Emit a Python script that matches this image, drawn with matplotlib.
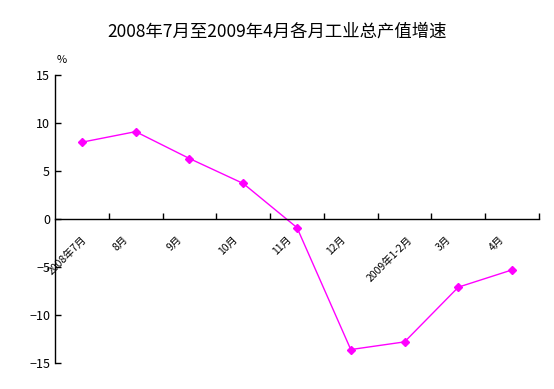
import matplotlib
matplotlib.use("Agg")
import matplotlib.pyplot as plt
import numpy as np

plt.rcParams['font.family'] = ['Noto Sans CJK SC', 'DejaVu Sans']

categories = ["2008年7月", "8月", "9月", "10月", "11月", "12月", "2009年1-2月", "3月", "4月"]
values = [8.0, 9.1, 6.3, 3.7, -0.9, -13.6, -12.8, -7.1, -5.3]

fig = plt.figure(figsize=(5.54, 3.89), dpi=100)
ax = fig.add_axes([55/554, (389-363)/389, (539-55)/554, (363-75)/389])

x = np.arange(len(categories))
ax.plot(x, values, color='#FF00FF', lw=1, marker='D', markersize=4)

ax.set_xlim(-0.5, len(categories) - 0.5)
ax.set_ylim(-15, 15)
ax.set_yticks([-15, -10, -5, 0, 5, 10, 15])
ax.tick_params(axis='y', direction='in', length=4, labelsize=9, width=1)

ax.set_xticks(np.arange(len(categories)) + 0.5)
ax.set_xticklabels([])
ax.tick_params(axis='x', which='major', direction='in', length=4, width=1)
ax.set_xticks(x - 0.28, minor=True)
ax.tick_params(axis='x', which='minor', length=0, pad=11, labelsize=7.5, labelrotation=45)
ax.set_xticklabels(categories, minor=True)
for lab in ax.get_xticklabels(minor=True):
    lab.set_ha('right')
    lab.set_va('center')
    lab.set_rotation(45)
    lab.set_rotation_mode('anchor')
    lab.set_fontweight('bold')

ax.spines['bottom'].set_position(('data', 0))
ax.spines['top'].set_visible(False)
ax.spines['right'].set_visible(False)
for s in ['left', 'bottom']:
    ax.spines[s].set_linewidth(1)

fig.text(62/554, 1 - 60/389, '%', fontsize=8, ha='center', va='center')
fig.text(277/554, 1 - 32/389, '2008年7月至2009年4月各月工业总产值增速', fontsize=12.5,
         ha='center', va='center')

fig.savefig('out.png', dpi=100, facecolor='white')
